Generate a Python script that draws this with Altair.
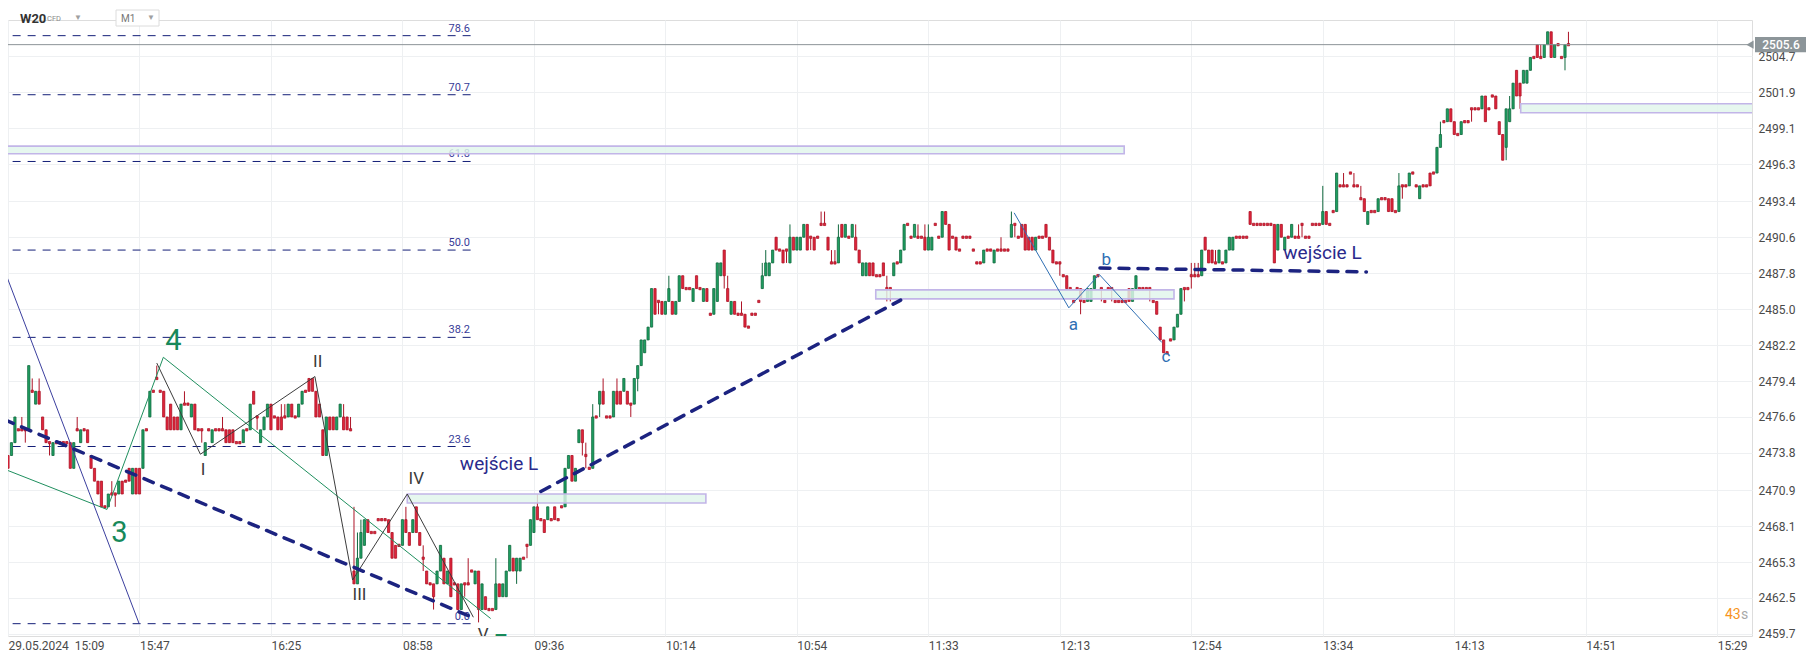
import json
import altair as alt
import pandas as pd

# ---------------- data ----------------
# 1-minute candles, index 0 = 29.05.2024 15:09
open_day1 = [
    2473.6, 2473.6, 2474.6, 2475.6, 2475.6, 2475.6, 2475.6, 2478.6, 2477.6, 2478.6,
    2476.6, 2475.6, 2474.6, 2473.6, 2474.6, 2474.6, 2474.6, 2474.6, 2474.6, 2472.6,
    2475.6, 2474.6, 2475.6, 2475.6, 2473.6, 2472.6, 2471.6, 2471.6, 2469.6, 2469.6,
    2470.6, 2470.6, 2470.6, 2471.6, 2471.6, 2472.6, 2470.6, 2472.6, 2472.6, 2472.6,
    2475.6, 2476.6, 2478.6, 2479.6, 2478.6, 2478.6, 2476.6, 2477.6, 2476.6, 2476.6,
    2475.6, 2477.6, 2477.6, 2476.6, 2477.6, 2475.6, 2475.6, 2473.6, 2475.6, 2474.6,
    2475.6, 2475.6, 2475.6, 2475.6, 2475.6, 2475.6, 2474.6, 2474.6, 2474.6, 2475.6,
    2475.6, 2478.6, 2476.6, 2474.6, 2475.6, 2476.6, 2477.6, 2476.6, 2476.6, 2476.6,
    2476.6, 2476.6, 2477.6, 2476.6, 2476.6, 2477.6, 2478.6, 2479.6, 2479.6, 2478.6,
    2477.6, 2475.6, 2473.6, 2476.6, 2476.6, 2475.6, 2476.6, 2476.6, 2476.6, 2475.6,
]
close_day1 = [
    2472.6, 2474.6, 2476.6, 2475.6, 2475.6, 2475.6, 2480.6, 2478.6, 2478.6, 2477.6,
    2475.6, 2474.6, 2474.6, 2474.6, 2474.6, 2474.6, 2474.6, 2474.6, 2472.6, 2474.6,
    2475.6, 2475.6, 2475.6, 2474.6, 2472.6, 2471.6, 2470.6, 2469.6, 2469.6, 2470.6,
    2470.6, 2470.6, 2471.6, 2470.6, 2471.6, 2471.6, 2472.6, 2470.6, 2470.6, 2475.6,
    2475.6, 2478.6, 2478.6, 2479.6, 2478.6, 2476.6, 2475.6, 2475.6, 2475.6, 2475.6,
    2477.6, 2477.6, 2477.6, 2477.6, 2475.6, 2475.6, 2475.6, 2474.6, 2475.6, 2475.6,
    2475.6, 2475.6, 2475.6, 2474.6, 2474.6, 2474.6, 2474.6, 2474.6, 2475.6, 2475.6,
    2477.6, 2477.6, 2476.6, 2475.6, 2476.6, 2477.6, 2475.6, 2476.6, 2475.6, 2475.6,
    2476.6, 2477.6, 2476.6, 2476.6, 2477.6, 2478.6, 2478.6, 2478.6, 2478.6, 2476.6,
    2476.6, 2473.6, 2476.6, 2475.6, 2475.6, 2476.6, 2477.6, 2475.6, 2475.6, 2475.6,
]
open_day2 = [
    2464.6, 2463.6, 2465.6, 2466.6, 2468.6, 2467.6, 2467.6, 2468.6, 2468.6, 2468.6,
    2468.6, 2467.6, 2466.6, 2466.6, 2466.6, 2468.6, 2467.6, 2467.6, 2469.6, 2467.6,
    2465.6, 2464.6, 2463.6, 2463.6, 2463.6, 2464.6, 2465.6, 2463.6, 2465.6, 2463.6,
    2463.6, 2461.6, 2463.6, 2463.6, 2464.6, 2463.6, 2464.6, 2461.6, 2462.6, 2461.6,
    2461.6, 2461.6, 2463.6, 2462.6, 2462.6, 2464.6, 2465.6, 2464.6, 2464.6, 2465.6,
    2466.6, 2466.6, 2467.6, 2469.6, 2468.6, 2468.6, 2468.6, 2468.6, 2469.6, 2468.6,
    2469.6, 2469.6, 2472.6, 2473.6, 2471.6, 2474.6, 2475.6, 2473.6, 2472.6, 2472.6,
    2476.6, 2477.6, 2478.6, 2476.6, 2476.6, 2476.6, 2478.6, 2478.6, 2478.6, 2478.6,
    2477.6, 2477.6, 2479.6, 2480.6, 2481.6, 2482.6, 2483.6, 2486.6, 2485.6, 2485.6,
    2484.6, 2485.6, 2485.6, 2484.6, 2485.6, 2487.6, 2486.6, 2486.6, 2485.6, 2487.6,
    2486.6, 2485.6, 2486.6, 2484.6, 2484.6, 2485.6, 2487.6, 2489.6, 2486.6, 2484.6,
    2485.6, 2484.6, 2484.6, 2484.6, 2483.6, 2484.6, 2484.6, 2485.6, 2486.6, 2487.6,
    2487.6, 2488.6, 2490.6, 2489.6, 2489.6, 2489.6, 2488.6, 2490.6, 2489.6, 2489.6,
    2490.6, 2491.6, 2490.6, 2490.6, 2490.6, 2491.6, 2491.6, 2490.6, 2488.6, 2488.6,
    2488.6, 2491.6, 2490.6, 2490.6, 2490.6, 2490.6, 2489.6, 2487.6, 2487.6, 2488.6,
    2488.6, 2487.6, 2487.6, 2488.6, 2486.6, 2486.6, 2487.6, 2488.6, 2488.6, 2489.6,
    2491.6, 2490.6, 2490.6, 2490.6, 2490.6, 2490.6, 2489.6, 2489.6, 2491.6, 2490.6,
    2490.6, 2492.6, 2491.6, 2490.6, 2490.6, 2489.6, 2490.6, 2490.6, 2490.6, 2489.6,
    2488.6, 2488.6, 2488.6, 2489.6, 2489.6, 2488.6, 2489.6, 2489.6, 2489.6, 2489.6,
    2490.6, 2491.6, 2490.6, 2491.6, 2491.6, 2490.6, 2490.6, 2489.6, 2490.6, 2490.6,
    2491.6, 2490.6, 2489.6, 2488.6, 2488.6, 2487.6, 2487.6, 2486.6, 2485.6, 2486.6,
    2486.6, 2485.6, 2485.6, 2485.6, 2486.6, 2487.6, 2486.6, 2485.6, 2486.6, 2486.6,
    2485.6, 2485.6, 2485.6, 2485.6, 2486.6, 2485.6, 2486.6, 2486.6, 2486.6, 2486.6,
    2486.6, 2485.6, 2485.6, 2483.6, 2482.6, 2481.6, 2482.6, 2482.6, 2483.6, 2484.6,
    2486.6, 2486.6, 2487.6, 2487.6, 2487.6, 2487.6, 2490.6, 2489.6, 2489.6, 2488.6,
    2488.6, 2488.6, 2488.6, 2489.6, 2489.6, 2490.6, 2490.6, 2490.6, 2490.6, 2492.6,
    2491.6, 2491.6, 2491.6, 2491.6, 2491.6, 2491.6, 2491.6, 2489.6, 2491.6, 2489.6,
    2490.6, 2490.6, 2490.6, 2490.6, 2491.6, 2490.6, 2490.6, 2491.6, 2491.6, 2491.6,
    2491.6, 2492.6, 2491.6, 2492.6, 2492.6, 2494.6, 2494.6, 2494.6, 2495.6, 2494.6,
    2494.6, 2493.6, 2493.6, 2491.6, 2492.6, 2492.6, 2492.6, 2493.6, 2493.6, 2493.6,
    2493.6, 2492.6, 2492.6, 2494.6, 2494.6, 2494.6, 2495.6, 2494.6, 2493.6, 2494.6,
    2494.6, 2495.6, 2495.6, 2495.6, 2497.6, 2499.6, 2499.6, 2500.6, 2499.6, 2498.6,
    2498.6, 2499.6, 2499.6, 2500.6, 2500.6, 2500.6, 2500.6, 2501.6, 2500.6, 2501.6,
    2501.6, 2499.6, 2498.6, 2497.6, 2499.6, 2500.6, 2503.6, 2502.6, 2502.6, 2502.6,
    2503.6, 2504.6, 2505.6, 2504.6, 2504.6, 2505.6, 2506.6, 2504.6, 2505.6, 2504.6,
    2504.6, 2505.6,
]
close_day2 = [
    2463.6, 2465.6, 2467.6, 2468.6, 2467.6, 2467.6, 2467.6, 2468.6, 2468.6, 2468.6,
    2467.6, 2465.6, 2465.6, 2466.6, 2468.6, 2467.6, 2466.6, 2468.6, 2467.6, 2466.6,
    2465.6, 2463.6, 2463.6, 2462.6, 2464.6, 2466.6, 2463.6, 2464.6, 2462.6, 2463.6,
    2461.6, 2463.6, 2463.6, 2463.6, 2464.6, 2464.6, 2461.6, 2463.6, 2461.6, 2461.6,
    2461.6, 2463.6, 2462.6, 2463.6, 2464.6, 2466.6, 2464.6, 2465.6, 2465.6, 2465.6,
    2466.6, 2468.6, 2469.6, 2468.6, 2468.6, 2467.6, 2469.6, 2468.6, 2468.6, 2468.6,
    2469.6, 2472.6, 2473.6, 2471.6, 2472.6, 2475.6, 2474.6, 2473.6, 2472.6, 2476.6,
    2476.6, 2478.6, 2477.6, 2476.6, 2476.6, 2478.6, 2477.6, 2477.6, 2479.6, 2477.6,
    2477.6, 2479.6, 2480.6, 2482.6, 2482.6, 2483.6, 2486.6, 2484.6, 2485.6, 2484.6,
    2485.6, 2486.6, 2484.6, 2485.6, 2487.6, 2486.6, 2486.6, 2486.6, 2486.6, 2486.6,
    2486.6, 2486.6, 2485.6, 2484.6, 2486.6, 2488.6, 2488.6, 2487.6, 2485.6, 2485.6,
    2484.6, 2484.6, 2484.6, 2483.6, 2483.6, 2484.6, 2484.6, 2485.6, 2487.6, 2488.6,
    2488.6, 2489.6, 2489.6, 2489.6, 2488.6, 2489.6, 2490.6, 2489.6, 2490.6, 2490.6,
    2491.6, 2489.6, 2490.6, 2489.6, 2490.6, 2491.6, 2491.6, 2489.6, 2488.6, 2488.6,
    2490.6, 2490.6, 2491.6, 2490.6, 2491.6, 2489.6, 2488.6, 2488.6, 2488.6, 2487.6,
    2487.6, 2487.6, 2487.6, 2487.6, 2486.6, 2486.6, 2488.6, 2488.6, 2489.6, 2491.6,
    2491.6, 2490.6, 2491.6, 2490.6, 2490.6, 2489.6, 2490.6, 2490.6, 2491.6, 2490.6,
    2492.6, 2491.6, 2489.6, 2490.6, 2489.6, 2489.6, 2490.6, 2490.6, 2490.6, 2489.6,
    2488.6, 2488.6, 2489.6, 2489.6, 2489.6, 2489.6, 2489.6, 2489.6, 2489.6, 2489.6,
    2491.6, 2491.6, 2490.6, 2490.6, 2489.6, 2489.6, 2489.6, 2490.6, 2490.6, 2490.6,
    2490.6, 2489.6, 2488.6, 2488.6, 2488.6, 2487.6, 2486.6, 2486.6, 2485.6, 2486.6,
    2485.6, 2485.6, 2486.6, 2486.6, 2487.6, 2487.6, 2486.6, 2485.6, 2486.6, 2486.6,
    2485.6, 2485.6, 2485.6, 2485.6, 2485.6, 2486.6, 2487.6, 2486.6, 2486.6, 2486.6,
    2486.6, 2485.6, 2484.6, 2482.6, 2481.6, 2481.6, 2482.6, 2483.6, 2484.6, 2486.6,
    2486.6, 2486.6, 2487.6, 2487.6, 2487.6, 2489.6, 2489.6, 2488.6, 2488.6, 2488.6,
    2489.6, 2488.6, 2489.6, 2490.6, 2490.6, 2490.6, 2490.6, 2490.6, 2490.6, 2491.6,
    2491.6, 2491.6, 2491.6, 2491.6, 2491.6, 2491.6, 2488.6, 2491.6, 2490.6, 2490.6,
    2490.6, 2491.6, 2490.6, 2490.6, 2491.6, 2490.6, 2490.6, 2491.6, 2491.6, 2491.6,
    2492.6, 2491.6, 2491.6, 2492.6, 2495.6, 2494.6, 2494.6, 2494.6, 2495.6, 2494.6,
    2494.6, 2493.6, 2492.6, 2492.6, 2492.6, 2492.6, 2493.6, 2493.6, 2493.6, 2492.6,
    2492.6, 2492.6, 2494.6, 2494.6, 2494.6, 2495.6, 2495.6, 2494.6, 2494.6, 2494.6,
    2494.6, 2494.6, 2495.6, 2497.6, 2498.6, 2499.6, 2500.6, 2499.6, 2498.6, 2498.6,
    2499.6, 2499.6, 2499.6, 2500.6, 2500.6, 2500.6, 2501.6, 2499.6, 2500.6, 2501.6,
    2500.6, 2498.6, 2496.6, 2500.6, 2500.6, 2502.6, 2501.6, 2501.6, 2503.6, 2503.6,
    2504.6, 2504.6, 2504.6, 2504.6, 2505.6, 2506.6, 2504.6, 2505.6, 2505.6, 2504.6,
    2505.6, 2505.6,
]
# upper / lower shadows sticking out of the bodies (candle index -> price)
wick_high = {4: 2476.6, 7: 2479.6, 9: 2479.6, 20: 2476.6, 30: 2471.6, 43: 2480.6, 51: 2478.6,
             62: 2476.6, 79: 2477.6, 80: 2477.6, 97: 2477.6, 99: 2476.6, 100: 2469.6, 101: 2467.6,
             102: 2468.6, 115: 2469.6, 120: 2466.6, 133: 2465.6, 141: 2465.6, 153: 2470.6,
             167: 2474.6, 169: 2477.6, 172: 2479.6, 176: 2479.6, 191: 2487.6, 208: 2487.6,
             212: 2485.6, 218: 2488.6, 219: 2489.6, 226: 2491.6, 235: 2492.6, 236: 2492.6,
             238: 2489.6, 239: 2489.6, 240: 2491.6, 245: 2491.6, 254: 2487.6, 263: 2491.6,
             265: 2491.6, 266: 2491.6, 287: 2490.6, 290: 2492.6, 342: 2488.6, 343: 2488.6,
             344: 2488.6, 349: 2489.6, 373: 2491.6, 380: 2494.6, 386: 2495.6, 389: 2495.6,
             391: 2494.6, 402: 2495.6, 414: 2499.6, 434: 2501.6, 443: 2505.6, 451: 2506.6}
wick_low = {5: 2474.6, 12: 2473.6, 31: 2469.6, 56: 2474.6, 72: 2475.6, 120: 2464.6, 123: 2461.6,
            132: 2462.6, 136: 2460.6, 147: 2463.6, 150: 2465.6, 166: 2473.6, 167: 2472.6,
            171: 2476.6, 180: 2476.6, 182: 2478.6, 188: 2484.6, 207: 2486.6, 225: 2488.6,
            232: 2489.6, 254: 2485.6, 255: 2485.6, 291: 2490.6, 304: 2487.6, 310: 2484.6,
            316: 2485.6, 319: 2485.6, 330: 2485.6, 340: 2485.6, 342: 2486.6, 374: 2490.6,
            403: 2493.6, 423: 2499.6, 433: 2496.6, 437: 2500.6, 450: 2503.6}

# axes
x_tick_index = [0, 38, 76, 114, 152, 190, 228, 266, 304, 342, 380, 418, 456, 494]
x_tick_labels = ["29.05.2024\u00a0\u00a015:09", "15:47", "16:25", "08:58", "09:36", "10:14", "10:54",
                 "11:33", "12:13", "12:54", "13:34", "14:13", "14:51", "15:29"]
y_ticks = [2459.7, 2462.5, 2465.3, 2468.1, 2470.9, 2473.8, 2476.6, 2479.4, 2482.2, 2485.0,
           2487.8, 2490.6, 2493.4, 2496.3, 2499.1, 2501.9, 2504.7]

# Fibonacci retracement levels
fib_labels = ["0.0", "23.6", "38.2", "50.0", "61.8", "70.7", "78.6"]
fib_prices = [2460.5, 2474.3, 2482.8, 2489.6, 2496.5, 2501.7, 2506.3]
fib_end = 134.7

# zones (rectangles)
zone_x1 = [-3.0, 115.4, 250.8, 437.2]
zone_x2 = [322.6, 201.7, 337.0, 520.0]
zone_lo = [2497.1, 2469.9, 2485.8, 2500.3]
zone_hi = [2497.7, 2470.6, 2486.5, 2501.0]

# wave drawings (candle index, price)
green_x = [-0.7, 28.6, 44.9, 139.5]
green_y = [2472.5, 2469.4, 2481.25, 2460.9]
black_x = [43.0, 55.6, 88.7, 99.6, 115.4, 134.5]
black_y = [2480.8, 2473.7, 2479.75, 2463.9, 2470.6, 2461.0]
abc_x = [290.8, 306.6, 315.4, 333.5]
abc_y = [2492.5, 2485.1, 2487.7, 2482.4]
steep_x = [-1.0, 37.9]
steep_y = [2488.0, 2460.5]
trend_seg = [1, 1, 2, 2, 3, 3]
trend_x = [-1.15, 135.0, 154.0, 258.0, 315.6, 392.6]
trend_y = [2476.4, 2460.9, 2470.8, 2485.7, 2488.2, 2487.9]

# labels
wave_big_text = ["3", "4", "5"]
wave_big_x = [32.2, 47.8, 142.2]
wave_big_y = [2467.6, 2482.5, 2458.8]
roman_text = ["I", "II", "III", "IV", "V"]
roman_x = [56.4, 89.5, 101.6, 118.0, 137.3]
roman_y = [2472.5, 2480.9, 2462.7, 2471.8, 2459.6]
abc_text = ["a", "b", "c"]
abc_lx = [307.9, 317.4, 334.7]
abc_ly = [2483.8, 2488.8, 2481.3]
entry_text = ["wejście L", "wejście L"]
entry_x = [130.6, 368.6]
entry_y = [2472.9, 2489.4]

last_price = 2505.6

# ---------------- styling ----------------
GREEN_F, GREEN_S = "#1ea062", "#11693f"
RED_F, RED_S = "#e0253b", "#ad1427"
X_MAX = 504.05
Y_MIN, Y_MAX = 2459.54, 2507.52
W, H = 1744, 616

xs = alt.Scale(domain=[0, X_MAX], nice=False, zero=False)
ys = alt.Scale(domain=[Y_MIN, Y_MAX], nice=False, zero=False)

labels_js = json.dumps(x_tick_labels, ensure_ascii=False).replace('"', "'")
x_axis = alt.Axis(values=x_tick_index, labelExpr=f"{labels_js}[indexof({json.dumps(x_tick_index)}, datum.value)]",
                  orient="bottom", title=None, domain=False, ticks=False, grid=True, gridColor="#eef0f2",
                  labelAlign="left", labelPadding=4, labelFontSize=12, labelColor="#4a4a4a",
                  labelOverlap=False, labelFlush=False, labelBound=False, labelFont="Roboto")
y_axis = alt.Axis(values=y_ticks, labelExpr="format(datum.value, '.1f')", orient="right", title=None,
                  domain=False, ticks=False, grid=True, gridColor="#eef0f2", labelPadding=6,
                  labelFontSize=12, labelColor="#4a4a4a", labelOverlap=False, labelFont="Roboto",
                  labelBound=False, labelFlush=False)


def X(f):
    return alt.X(f, type="quantitative", scale=xs, axis=x_axis)


def Y(f):
    return alt.Y(f, type="quantitative", scale=ys, axis=y_axis)


opens = open_day1 + open_day2
closes = close_day1 + close_day2
n = min(len(opens), len(closes))
rows = []
for i in range(n):
    o, c = opens[i], closes[i]
    hi = max(o, c, wick_high.get(i, o))
    lo = min(o, c, wick_low.get(i, o))
    blo, bhi = min(o, c), max(o, c)
    if bhi - blo < 0.01:
        blo -= 0.09
        bhi += 0.09
    rows.append(dict(i=i, xl=i - 0.32, xr=i + 0.32, high=hi, low=lo, blo=blo, bhi=bhi,
                     dir="up" if c > o else "down"))
candles = pd.DataFrame(rows)

fill_scale = alt.Scale(domain=["up", "down"], range=[GREEN_F, RED_F])
stroke_scale = alt.Scale(domain=["up", "down"], range=[GREEN_S, RED_S])

wicks = alt.Chart(candles).mark_rule(strokeWidth=1).encode(
    x=X("i"), y=Y("low"), y2=alt.Y2("high"),
    color=alt.Color("dir:N", scale=stroke_scale, legend=None))
bodies = alt.Chart(candles).mark_rect(strokeWidth=0.8).encode(
    x=X("xl"), x2=alt.X2("xr"), y=Y("blo"), y2=alt.Y2("bhi"),
    fill=alt.Fill("dir:N", scale=fill_scale, legend=None),
    stroke=alt.Stroke("dir:N", scale=stroke_scale, legend=None))

fib_df = pd.DataFrame({"label": fib_labels, "price": fib_prices, "x1": -3.0, "x2": fib_end,
                       "xl": fib_end - 1.2})
fib_lines = alt.Chart(fib_df).mark_rule(color="#141f78", strokeWidth=1, strokeDash=[8, 7], clip=True).encode(
    x=X("x1"), x2=alt.X2("x2"), y=Y("price"))
fib_text = alt.Chart(fib_df).mark_text(align="right", baseline="bottom", dy=-2, fontSize=11,
                                       color="#383c98", font="Roboto").encode(
    x=X("xl"), y=Y("price"), text="label:N")

price_df = pd.DataFrame({"p": [last_price], "x1": [0.0], "x2": [X_MAX],
                         "lo": [last_price - 0.6], "hi": [last_price + 0.6],
                         "t": [f"{last_price:.1f}"]})
price_rule = alt.Chart(price_df).mark_rule(color="#8c9398", strokeWidth=1).encode(
    x=X("x1"), x2=alt.X2("x2"), y=Y("p"))

zones_df = pd.DataFrame({"x1": zone_x1, "x2": zone_x2, "lo": zone_lo, "hi": zone_hi})
zones = alt.Chart(zones_df).mark_rect(fill="#e1f5ec", fillOpacity=0.82, stroke="#c2b5e8",
                                      strokeWidth=1.6, clip=True).encode(
    x=X("x1"), x2=alt.X2("x2"), y=Y("lo"), y2=alt.Y2("hi"))


def poly(xv, yv, color, width=1.0):
    df = pd.DataFrame({"x": xv, "y": yv, "k": list(range(len(xv)))})
    return alt.Chart(df).mark_line(color=color, strokeWidth=width, clip=True).encode(
        x=X("x"), y=Y("y"), order=alt.Order("k:Q"))


green_line = poly(green_x, green_y, "#1f8f5e")
black_line = poly(black_x, black_y, "#3c3c3c")
abc_line = poly(abc_x, abc_y, "#2f6fb3")
steep_line = poly(steep_x, steep_y, "#3b3f9e")

trend_df = pd.DataFrame({"seg": trend_seg, "x": trend_x, "y": trend_y, "k": list(range(len(trend_x)))})
trend = alt.Chart(trend_df).mark_line(color="#1c2380", strokeWidth=3.5, strokeDash=[10, 9],
                                      strokeCap="round", clip=True).encode(
    x=X("x"), y=Y("y"), detail="seg:N", order=alt.Order("k:Q"))


def labels(txt, xv, yv, color, size, align="center"):
    df = pd.DataFrame({"t": txt, "x": xv, "y": yv})
    return alt.Chart(df).mark_text(color=color, fontSize=size, align=align, baseline="middle",
                                   font="Roboto", clip=True).encode(x=X("x"), y=Y("y"), text="t:N")


big_lbl = labels(wave_big_text, wave_big_x, wave_big_y, "#17895a", 29)
roman_lbl = labels(roman_text, roman_x, roman_y, "#3a3a3a", 17)
abc_lbl = labels(abc_text, abc_lx, abc_ly, "#2f6fb3", 17)
entry_lbl = labels(entry_text, entry_x, entry_y, "#2a2a8c", 19, align="left")

# current price marker on the right
price_box = alt.Chart(price_df).mark_rect(color="#8c9599").encode(
    x=alt.value(1747), x2=alt.value(1798), y=Y("lo"), y2=alt.Y2("hi"))
price_arrow = alt.Chart(price_df).mark_point(shape="triangle-left", filled=True, size=70,
                                             color="#8c9599", opacity=1).encode(
    x=alt.value(1742), y=Y("p"))
price_txt = alt.Chart(price_df).mark_text(color="white", fontSize=12, fontWeight=500, font="Roboto",
                                          align="center", baseline="middle").encode(
    x=alt.value(1773), y=Y("p"), text="t:N")

# header and countdown
one = pd.DataFrame({"t": [""]})


def fixed_text(text, x, y, size, color, weight="normal"):
    return alt.Chart(one).mark_text(text=text, fontSize=size, color=color, fontWeight=weight,
                                    align="left", baseline="middle", font="Roboto").encode(
        x=alt.value(x), y=alt.value(y))


hdr_box = alt.Chart(one).mark_rect(fill="white", stroke="#dcdcdc", strokeWidth=1).encode(
    x=alt.value(108), x2=alt.value(151), y=alt.value(-10), y2=alt.value(6))
hdr = [
    fixed_text("W20", 12, -1.5, 13, "#333333", "bold"),
    fixed_text("CFD", 39, -1, 7.5, "#8a8a8a"),
    fixed_text("▼", 66, -2, 8, "#a0a0a0"),
    fixed_text("M1", 113, -1.5, 10, "#777777"),
    fixed_text("▼", 139, -2, 8, "#a0a0a0"),
    fixed_text("43", 1717, 595, 14, "#f7941d"),
    fixed_text("s", 1733, 595, 14, "#a8a8a8"),
]

chart = alt.layer(
    fib_lines, fib_text, wicks, bodies, price_rule, zones,
    green_line, black_line, abc_line, steep_line, trend,
    big_lbl, roman_lbl, abc_lbl, entry_lbl,
    price_box, price_arrow, price_txt, hdr_box, *hdr,
).properties(
    width=W, height=H,
    padding={"left": 0, "top": 12, "right": 56, "bottom": 20},
    autosize=alt.AutoSizeParams(type="none"),
    background="white",
).configure_view(stroke=None).configure(font="Roboto")

chart.save("out.html", embed_options={"renderer": "svg", "actions": False})
